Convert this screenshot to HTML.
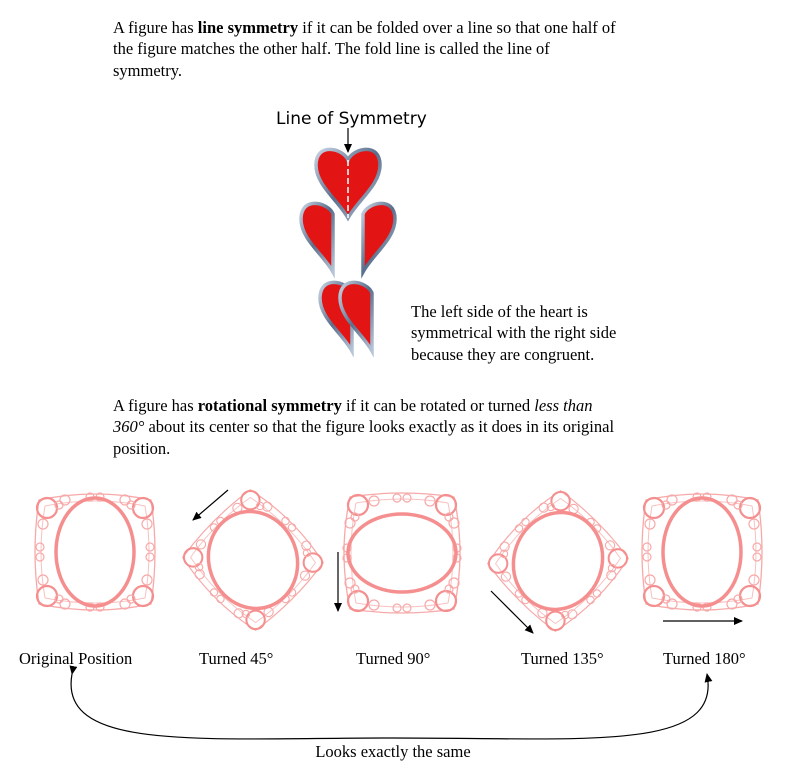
<!DOCTYPE html>
<html><head><meta charset="utf-8"><style>
body{margin:0;background:#fff;width:786px;height:782px;overflow:hidden}
svg{display:block}
.t{font-family:"Liberation Serif",serif;font-size:16.5px;fill:#000}
</style></head><body>
<svg width="786" height="782" viewBox="0 0 786 782" xmlns="http://www.w3.org/2000/svg">
<defs>
<marker id="ah" markerWidth="10" markerHeight="10" refX="8" refY="5" orient="auto" markerUnits="userSpaceOnUse"><path d="M0,1 L9,5 L0,9 Z" fill="#000"/></marker>
<linearGradient id="st" x1="0" y1="0" x2="1" y2="1"><stop offset="0" stop-color="#c8d4e4"/><stop offset="0.5" stop-color="#5a6f8c"/><stop offset="1" stop-color="#b7c5d8"/></linearGradient>
<g id="border">
 <path d="M-56,-52 Q0,-64 56,-52 Q64,0 56,52 Q0,64 -56,52 Q-64,0 -56,-52Z" fill="none" stroke="#f7a9a9" stroke-width="1.3"/>
 <path d="M-50,-46 Q0,-56 50,-46 Q58,0 50,46 Q0,56 -50,46 Q-58,0 -50,-46Z" fill="none" stroke="#f9c0c0" stroke-width="1"/>
 <g fill="none" stroke="#f58f8f" stroke-width="2.2">
  <circle cx="-48" cy="-44" r="10"/><circle cx="48" cy="-44" r="10"/><circle cx="-48" cy="44" r="10"/><circle cx="48" cy="44" r="10"/>
 </g>
 <g fill="none" stroke="#f7a9a9" stroke-width="1.2">
  <circle cx="-30" cy="-52" r="5"/><circle cx="30" cy="-52" r="5"/><circle cx="-30" cy="52" r="5"/><circle cx="30" cy="52" r="5"/>
  <circle cx="-36" cy="-47" r="4"/><circle cx="36" cy="-47" r="4"/><circle cx="-36" cy="47" r="4"/><circle cx="36" cy="47" r="4"/>
  <circle cx="-5" cy="-55" r="4"/><circle cx="5" cy="-55" r="4"/><circle cx="-5" cy="55" r="4"/><circle cx="5" cy="55" r="4"/>
  <circle cx="-55" cy="-5" r="4"/><circle cx="-55" cy="5" r="4"/><circle cx="55" cy="-5" r="4"/><circle cx="55" cy="5" r="4"/>
  <circle cx="-52" cy="-28" r="5"/><circle cx="52" cy="-28" r="5"/><circle cx="-52" cy="28" r="5"/><circle cx="52" cy="28" r="5"/>
 </g>
</g>
<path id="heart" d="M0,10 C-5,-2 -32,-8 -32,15 C-32,35 -10,50 0,68 C10,50 32,35 32,15 C32,-8 5,-2 0,10Z"/>
<path id="lh" d="M0,10 C-5,-2 -32,-8 -32,15 C-32,35 -10,50 0,68 Z"/>
<path id="rh" d="M0,10 C5,-2 32,-8 32,15 C32,35 10,50 0,68 Z"/>
</defs>

<text class="t" x="113" y="33">A figure has <tspan font-weight="bold">line symmetry</tspan> if it can be folded over a line so that one half of</text>
<text class="t" x="113" y="54">the figure matches the other half.  The fold line is called the line of</text>
<text class="t" x="113" y="76">symmetry.</text>

<text x="276" y="124" font-family="'DejaVu Sans',sans-serif" font-size="17">Line of Symmetry</text>
<line x1="348" y1="128" x2="348" y2="152" stroke="#000" stroke-width="1.2" marker-end="url(#ah)"/>

<g fill="#e31414" stroke="url(#st)" stroke-width="3.5">
 <use href="#heart" transform="translate(348,150)"/>
 <use href="#lh" transform="translate(333,204)"/>
 <use href="#rh" transform="translate(363,204)"/>
 <use href="#lh" transform="translate(352,283)"/>
 <use href="#lh" transform="translate(372,283)"/>
</g>
<line x1="348" y1="160" x2="348" y2="218" stroke="#fff" stroke-width="1.5" stroke-dasharray="6,3"/>

<text class="t" x="411" y="317">The left side of the heart is</text>
<text class="t" x="411" y="338">symmetrical with the right side</text>
<text class="t" x="411" y="360">because they are congruent.</text>

<text class="t" x="113" y="411">A figure has <tspan font-weight="bold">rotational symmetry</tspan> if it can be rotated or turned <tspan font-style="italic">less than</tspan></text>
<text class="t" x="113" y="432"><tspan font-style="italic">360°</tspan> about its center so that the figure looks exactly as it does in its original</text>
<text class="t" x="113" y="454">position.</text>

<use href="#border" transform="translate(95,552)"/>
<ellipse cx="95" cy="552" rx="39" ry="54" fill="none" stroke="#f58f8f" stroke-width="3.5"/>
<use href="#border" transform="translate(253,560) rotate(45) scale(0.92)"/>
<ellipse cx="253" cy="560" rx="44" ry="49" fill="none" stroke="#f58f8f" stroke-width="3.5" transform="rotate(-20 253 560)"/>
<use href="#border" transform="translate(402,553) rotate(90)"/>
<ellipse cx="402" cy="553" rx="54" ry="39" fill="none" stroke="#f58f8f" stroke-width="3.5"/>
<use href="#border" transform="translate(558,561) rotate(135) scale(0.92)"/>
<ellipse cx="558" cy="561" rx="44" ry="49" fill="none" stroke="#f58f8f" stroke-width="3.5" transform="rotate(20 558 561)"/>
<use href="#border" transform="translate(702,552) rotate(180)"/>
<ellipse cx="702" cy="552" rx="39" ry="54" fill="none" stroke="#f58f8f" stroke-width="3.5"/>

<g stroke="#000" stroke-width="1.2" fill="none">
 <line x1="228" y1="490" x2="193" y2="520" marker-end="url(#ah)"/>
 <line x1="338" y1="552" x2="338" y2="611" marker-end="url(#ah)"/>
 <line x1="491" y1="591" x2="533" y2="633" marker-end="url(#ah)"/>
 <line x1="663" y1="621" x2="742" y2="621" marker-end="url(#ah)"/>
 <path d="M72,674 C58,752 200,738 393,738 C590,738 722,752 707,674" marker-start="url(#ah)" marker-end="url(#ah)"/>
</g>

<text class="t" x="19" y="664">Original Position</text>
<text class="t" x="199" y="664">Turned 45°</text>
<text class="t" x="356" y="664">Turned 90°</text>
<text class="t" x="521" y="664">Turned 135°</text>
<text class="t" x="663" y="664">Turned 180°</text>
<text class="t" x="393" y="757" text-anchor="middle">Looks exactly the same</text>
</svg>
</body></html>
